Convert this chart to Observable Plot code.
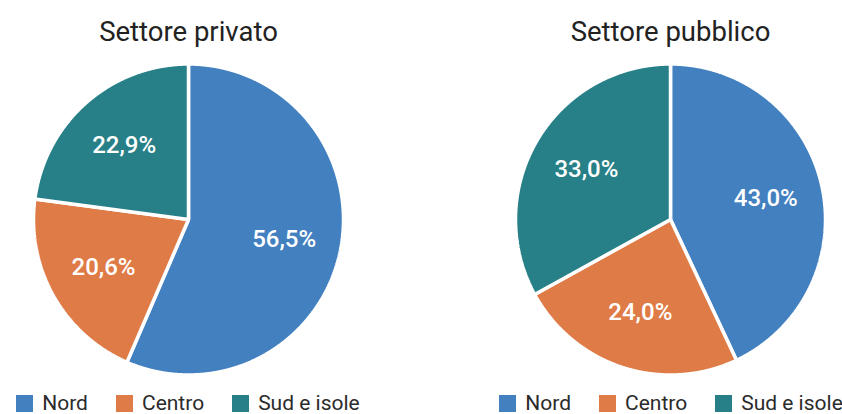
<!DOCTYPE html>
<html>
<head>
<meta charset="utf-8">
<script src="https://cdn.jsdelivr.net/npm/d3@7"></script>
<script src="https://cdn.jsdelivr.net/npm/@observablehq/plot@0.6"></script>
<style>
  html, body { margin: 0; padding: 0; background: #fff; }
  body { width: 842px; height: 414px; overflow: hidden; font-family: Roboto, "Noto Sans", sans-serif; }
  #chart svg { display: block; }
  .legends { display: flex; margin-top: 9px; }
  .legend { display: flex; flex: none; justify-content: center; align-items: center; font-size: 21px; line-height: 21px; color: #2b2b2b; white-space: nowrap; }
  .legend .item { display: flex; flex: none; align-items: center; margin: 0 14px; white-space: nowrap; }
  .legend .sw { flex: none; width: 17px; height: 17px; margin-right: 9px; }
</style>
</head>
<body>
<div id="chart"></div>
<script>
const sectors = ["Settore privato", "Settore pubblico"];
const regions = ["Nord", "Centro", "Sud e isole"];
const privato = [56.5, 20.6, 22.9];
const pubblico = [43.0, 24.0, 33.0];
const colors = ["#4380C0", "#DF7B46", "#277F87"];

const seriesBySector = [privato, pubblico];
const pie = d3.pie().sort(null).value(d => d.value);

const slicePoints = [];
const labels = [];
sectors.forEach((sector, si) => {
  const rows = regions.map((r, i) => ({sector, region: r, value: seriesBySector[si][i]}));
  pie(rows).forEach(a => {
    const {sector, region, value} = a.data;
    slicePoints.push({sector, region, x: 0, y: 0});
    const n = Math.max(2, Math.ceil((a.endAngle - a.startAngle) / (Math.PI / 720)));
    for (let k = 0; k <= n; k++) {
      const t = a.startAngle + (a.endAngle - a.startAngle) * k / n;
      slicePoints.push({sector, region, x: Math.sin(t), y: Math.cos(t)});
    }
    const mid = (a.startAngle + a.endAngle) / 2;
    const lr = 0.63;
    labels.push({sector, region, x: lr * Math.sin(mid), y: lr * Math.cos(mid),
      text: value.toFixed(1).replace(".", ",") + "%"});
  });
});

const plot = Plot.plot({
  width: 842,
  height: 384,
  marginLeft: 32.5,
  marginRight: 15.5,
  marginTop: 63.5,
  marginBottom: 9.5,
  style: {fontFamily: "Roboto, 'Noto Sans', sans-serif", background: "#fff", overflow: "visible"},
  fx: {domain: sectors, axis: null, paddingInner: 0.3561, paddingOuter: 0},
  x: {domain: [-1, 1], axis: null},
  y: {domain: [-1, 1], axis: null},
  color: {domain: regions, range: colors},
  marks: [
    Plot.line(slicePoints, {
      fx: "sector", x: "x", y: "y", z: "region",
      fill: "region", stroke: "white", strokeWidth: 3.5,
      curve: "linear-closed", strokeLinejoin: "miter"
    }),
    Plot.text(labels, {
      fx: "sector", x: "x", y: "y", text: "text",
      fill: "white", fontSize: 24, fontWeight: 500
    }),
    Plot.text(sectors, {
      fx: d => d, text: d => d, frameAnchor: "top", lineAnchor: "middle", dy: -32,
      fontSize: 27.5, fill: "#222"
    })
  ]
});
document.getElementById("chart").appendChild(plot);

// Legends under each pie
const legendsDiv = document.createElement("div");
legendsDiv.className = "legends";
const legendWidths = [376, 342];
const legendLefts = [0, 124];
sectors.forEach((s, si) => {
  const lg = document.createElement("div");
  lg.className = "legend";
  lg.style.width = legendWidths[si] + "px";
  lg.style.marginLeft = legendLefts[si] + "px";
  regions.forEach((r, i) => {
    const it = document.createElement("div");
    it.className = "item";
    const sw = document.createElement("span");
    sw.className = "sw";
    sw.style.background = colors[i];
    const tx = document.createElement("span");
    tx.textContent = r;
    it.appendChild(sw);
    it.appendChild(tx);
    lg.appendChild(it);
  });
  legendsDiv.appendChild(lg);
});
document.body.appendChild(legendsDiv);
</script>
</body>
</html>
